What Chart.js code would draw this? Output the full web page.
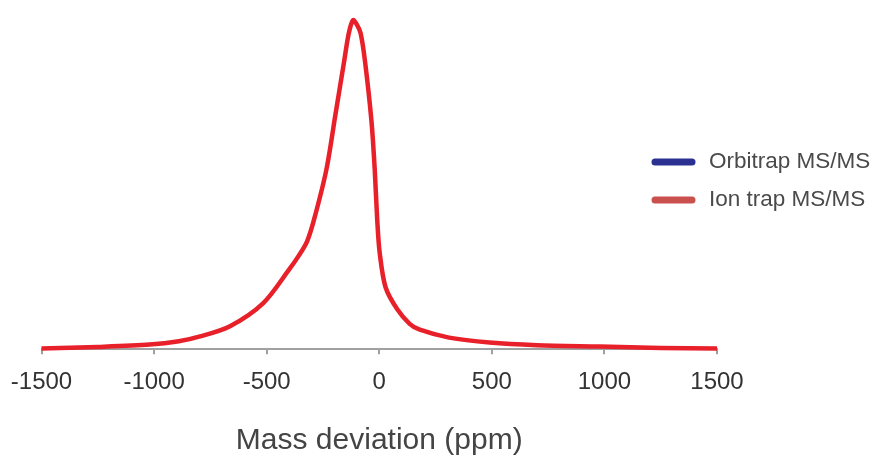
<!DOCTYPE html>
<html>
<head>
<meta charset="utf-8">
<script src="https://cdn.jsdelivr.net/npm/chart.js@4.4.1/dist/chart.umd.min.js"></script>
<style>
  html, body { margin: 0; padding: 0; background: #fff; }
  #wrap { width: 877px; height: 456px; position: relative; }
</style>
</head>
<body>
<div id="wrap"><canvas id="mass-chart"></canvas></div>
<script>
// values (y is relative frequency, peak ~ 100)
var seriesNames = ["Orbitrap MS/MS", "Ion trap MS/MS"];
var xTicks = [-1500, -1000, -500, 0, 500, 1000, 1500];
var ionTrapPpm = [-1500, -1250, -1020, -890, -800, -665, -515, -400, -355, -320, -290, -235, -195, -155, -135, -116, -100, -83, -64, -35, -20, -9, 2, 28, 80, 135, 180, 310, 490, 700, 980, 1250, 1500];
var ionTrapFreq = [0.2, 0.7, 1.4, 2.4, 3.8, 6.9, 14.0, 24.2, 28.6, 32.8, 39.2, 54.4, 71.0, 87.7, 95.9, 99.8, 98.5, 95.9, 87.7, 69.5, 54.4, 39.2, 29.2, 18.8, 12.1, 7.7, 5.9, 3.5, 2.0, 1.2, 0.8, 0.4, 0.2];
// orbitrap curve is not visible in the picture, only its legend entry
var orbitrapPpm = [];
var orbitrapFreq = [];

function toPoints(xs, ys) {
    var pts = [];
    xs.forEach(function(x, i) {
        pts.push({ x: x, y: ys[i] });
    });
    return pts;
}

// simple legend drawn on the right, like the original
var sideLegend = {
    id: 'sideLegend',
    afterDraw: function(chart) {
        var ctx = chart.ctx;
        ctx.save();
        chart.data.datasets.forEach(function(ds, i) {
            var y = 162 + i * 38;
            ctx.strokeStyle = ds.legendColor;
            ctx.lineWidth = 7;
            ctx.lineCap = 'round';
            ctx.beginPath();
            ctx.moveTo(655, y);
            ctx.lineTo(692, y);
            ctx.stroke();
            ctx.fillStyle = '#4a4a4a';
            ctx.font = '22.5px "Liberation Sans", Arial, sans-serif';
            ctx.textBaseline = 'middle';
            ctx.fillText(ds.label, 709, y);
        });
        ctx.restore();
    }
};

new Chart(document.getElementById("mass-chart"), {
    type: 'line',
    data: {
        datasets: [{
            label: seriesNames[0],
            data: toPoints(orbitrapPpm, orbitrapFreq),
            borderColor: '#2b3190',
            legendColor: '#2b3190',
            borderWidth: 4.5,
            pointRadius: 0,
            fill: false
        }, {
            label: seriesNames[1],
            data: toPoints(ionTrapPpm, ionTrapFreq),
            borderColor: '#e8202a',
            legendColor: '#c9504d',
            borderWidth: 4.5,
            pointRadius: 0,
            tension: 0.3,
            clip: false,
            fill: false
        }]
    },
    options: {
        responsive: true,
        maintainAspectRatio: false,
        animation: false,
        layout: {
            padding: { left: 41.5, right: 160, top: 3, bottom: -2.5 }
        },
        plugins: {
            legend: { display: false },
            tooltip: { enabled: false }
        },
        scales: {
            x: {
                type: 'linear',
                min: -1500,
                max: 1500,
                afterBuildTicks: function(axis) {
                    axis.ticks = xTicks.map(function(v) { return { value: v }; });
                },
                afterFit: function(axis) {
                    // the end labels may hang over the plot edges
                    axis.paddingLeft = 0;
                    axis.paddingRight = 0;
                },
                border: { color: '#a0a0a0', width: 2 },
                grid: {
                    drawOnChartArea: false,
                    drawTicks: true,
                    tickLength: 5,
                    color: '#a0a0a0',
                    lineWidth: 2
                },
                ticks: {
                    color: '#333',
                    padding: 14,
                    maxRotation: 0,
                    font: { family: '"Liberation Sans", Arial, sans-serif', size: 24 },
                    callback: function(v) { return String(v); }
                },
                title: {
                    display: true,
                    text: 'Mass deviation (ppm)',
                    color: '#444',
                    padding: { top: 11.5, bottom: 0 },
                    font: { family: '"Liberation Sans", Arial, sans-serif', size: 30 }
                }
            },
            y: {
                display: false,
                min: 0,
                max: 105
            }
        }
    },
    plugins: [sideLegend]
});
</script>
</body>
</html>
